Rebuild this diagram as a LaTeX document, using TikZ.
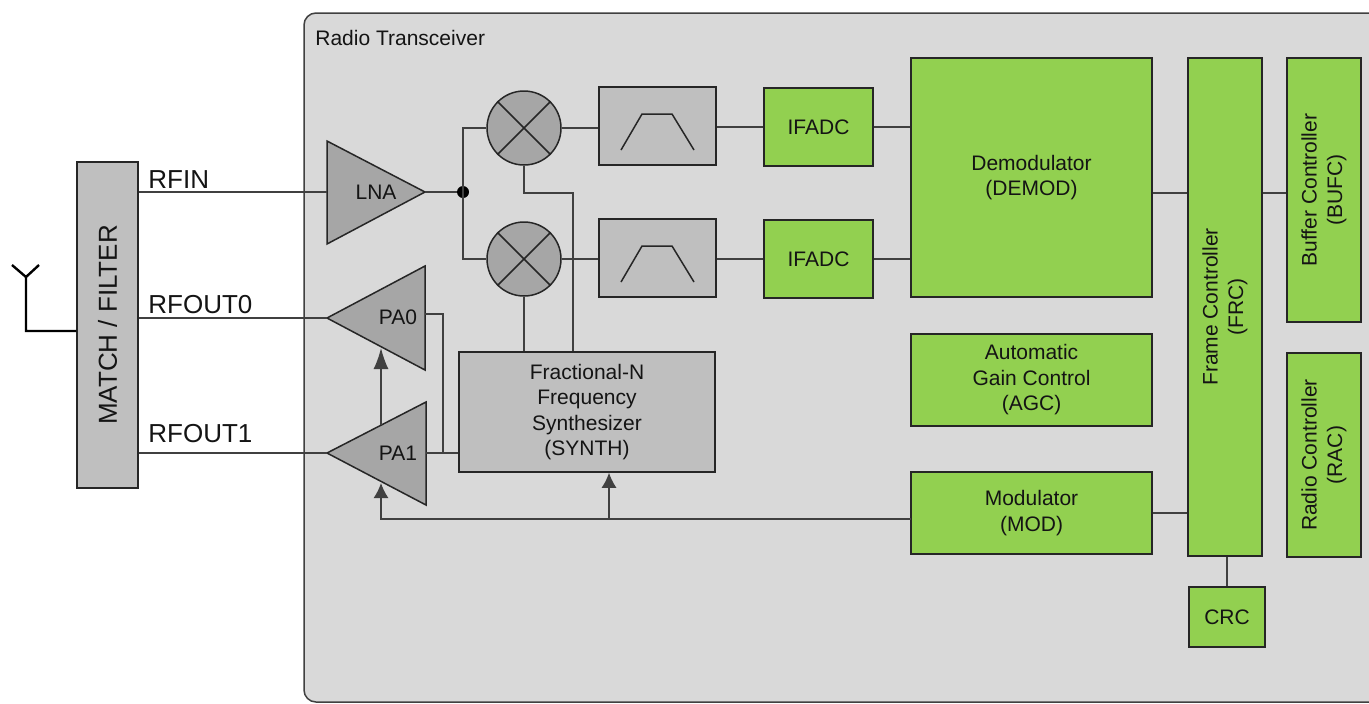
\documentclass[tikz,border=0pt]{standalone}
\usepackage{fontspec}
\setmainfont{Liberation Sans}
\usetikzlibrary{arrows.meta,fit,calc}
\definecolor{bgray}{HTML}{D9D9D9}
\definecolor{lgray}{HTML}{BFBFBF}
\definecolor{mgray}{HTML}{A6A6A6}
\definecolor{lgreen}{HTML}{92D050}
\definecolor{edgec}{HTML}{262626}
\definecolor{wirec}{HTML}{404040}
\definecolor{txt}{HTML}{141414}
\tikzset{
  blk/.style={draw=edgec, line width=0.75pt, inner sep=0pt},
  gbox/.style={blk, fill=lgreen},
  sbox/.style={blk, fill=lgray},
  amp/.style={draw=edgec, line width=0.75pt, fill=mgray, line join=miter},
  mixer/.style={circle, draw=edgec, fill=mgray, line width=0.75pt, minimum size=37pt, inner sep=0pt},
  wire/.style={draw=wirec, line width=0.75pt},
  arr/.style={wire, -{Latex[length=7.5pt,width=7.5pt]}},
  longarr/.style={wire, -{Latex[length=10.5pt,width=7.5pt]}},
  pinlbl/.style={inner sep=0pt, anchor=base west, text=txt, font=\fontsize{13}{15}\selectfont},
  txtlbl/.style={inner sep=0pt, align=center, text=txt, font=\fontsize{10.5}{12.75}\selectfont},
  rlab/.style={txtlbl, rotate=90},
}
\begin{document}
\begin{tikzpicture}[x=0.5pt,y=-0.5pt]
\useasboundingbox (0,0) rectangle (1369,703);
\clip (0,0) rectangle (1369,703);
\fill[white] (0,0) rectangle (1369,703);
% transceiver frame
\draw[draw=wirec, fill=bgray, line width=0.75pt, rounded corners=6pt] (304,13) rectangle (1420,702);
\node[txtlbl, anchor=base west] (title) at (315,45) {Radio Transceiver};

% match / filter and antenna
\node[sbox, fit={(77,162) (138,488)}] (mf) {};
\node[rlab, font=\fontsize{13}{15}\selectfont] (mflab) at (mf.center) {MATCH / FILTER};
\coordinate (antb) at (26,331);
\coordinate (antt) at (26,277);
\coordinate (antl) at (12,265);
\coordinate (antr) at (39,265);
\draw[line width=1.2pt, black] (mf.west |- antb) -- (antb) -- (antt) -- (antl) (antt) -- (antr);

% amplifiers
\coordinate (lnain) at (327,192);
\coordinate (lnaout) at (425,192);
\draw[amp] (327,141) -- (425,192) -- (327,244) -- cycle;
\node[txtlbl] (lnalab) at (376,192) {LNA};

\coordinate (pa0out) at (327,318);
\coordinate (pa0in) at (425,314);
\draw[amp] (327,318) -- (425,266) -- (425,370) -- cycle;
\node[txtlbl] (pa0lab) at (398,317) {PA0};

\coordinate (pa1out) at (327,453);
\coordinate (pa1in) at (426,453);
\draw[amp] (327,453) -- (426,402) -- (426,505) -- cycle;
\node[txtlbl] (pa1lab) at (398,453) {PA1};

% pin wires and labels
\draw[wire] (lnain -| mf.east) -- (lnain);
\draw[wire] (pa0out -| mf.east) -- (pa0out);
\draw[wire] (pa1out -| mf.east) -- (pa1out);
\node[pinlbl] (rfin) at (148,188) {RFIN};
\node[pinlbl] (rfout0) at (148,313) {RFOUT0};
\node[pinlbl] (rfout1) at (148,442) {RFOUT1};

% mixers
\node[mixer] (mixA) at (524,128) {};
\node[mixer] (mixB) at (524,259) {};
\draw[edgec, line width=0.75pt] (mixA.north west) -- (mixA.south east) (mixA.north east) -- (mixA.south west);
\draw[edgec, line width=0.75pt] (mixB.north west) -- (mixB.south east) (mixB.north east) -- (mixB.south west);

% filters
\node[sbox, fit={(599,87) (716,165)}] (filtA) {};
\node[sbox, fit={(599,219) (716,297)}] (filtB) {};
\draw[edgec, line width=0.75pt] (621,150) -- (642,114) -- (672,114) -- (694,150);
\draw[edgec, line width=0.75pt] (621,282) -- (642,246) -- (672,246) -- (694,282);

% green blocks
\node[gbox, fit={(764,88) (873,166)}] (ifA) {};
\node[txtlbl] (ifAlab) at (ifA.center) {IFADC};
\node[gbox, fit={(764,220) (873,298)}] (ifB) {};
\node[txtlbl] (ifBlab) at (ifB.center) {IFADC};
\node[gbox, fit={(911,58) (1152,297)}] (demod) {};
\node[txtlbl] (demodlab) at (demod.center) {Demodulator\\(DEMOD)};
\node[gbox, fit={(911,334) (1152,426)}] (agc) {};
\node[txtlbl] (agclab) at (agc.center) {Automatic\\Gain Control\\(AGC)};
\node[gbox, fit={(911,472) (1152,554)}] (mod) {};
\node[txtlbl] (modlab) at (mod.center) {Modulator\\(MOD)};
\node[gbox, fit={(1188,58) (1262,556)}] (frc) {};
\node[rlab] (frclab) at (frc.center) {Frame Controller\\(FRC)};
\node[gbox, fit={(1287,58) (1361,322)}] (bufc) {};
\node[rlab] (bufclab) at (bufc.center) {Buffer Controller\\(BUFC)};
\node[gbox, fit={(1287,353) (1361,557)}] (rac) {};
\node[rlab] (raclab) at (rac.center) {Radio Controller\\(RAC)};
\node[gbox, fit={(1189,587) (1265,647)}] (crc) {};
\node[txtlbl] (crclab) at (crc.center) {CRC};

% synthesizer
\node[sbox, fit={(459,352) (715,472)}] (synth) {};
\node[txtlbl] (synthlab) at (synth.center) {Fractional-N\\Frequency\\Synthesizer\\(SYNTH)};

% receive path wires
\coordinate (split) at (463,192);
\draw[wire] (lnaout) -- (split);
\fill[black] (split) circle (3pt);
\draw[wire] (mixA.west) -| (split) |- (mixB.west);
\draw[wire] (mixA.east) -- (mixA.east -| filtA.west);
\draw[wire] (mixB.east) -- (mixB.east -| filtB.west);
\draw[wire] (ifA.west -| filtA.east) -- (ifA.west);
\draw[wire] (ifB.west -| filtB.east) -- (ifB.west);
\draw[wire] (ifA.east) -- (ifA.east -| demod.west);
\draw[wire] (ifB.east) -- (ifB.east -| demod.west);

% controller wires
\coordinate (dline) at (1152,193);
\draw[wire] (dline -| demod.east) -- (dline -| frc.west);
\draw[wire] (dline -| frc.east) -- (dline -| bufc.west);
\draw[wire] (mod.east) -- (mod.east -| frc.west);
\draw[wire] (crc.north |- frc.south) -- (crc.north);

% LO wires
\coordinate (lo) at (573,193);
\draw[wire] (mixB.south) -- (mixB.south |- synth.north);
\draw[wire] (lo |- synth.north) -- (lo) -| (mixA.south);
\coordinate (pajoin) at (443,453);
\draw[wire] (pa0in) -| (pajoin);
\draw[wire] (pa1in) -- (pa1in -| synth.west);

% transmit control arrows
\coordinate (modin) at (911,519);
\coordinate (pa1tap) at (381,483);
\coordinate (synthtap) at (609,519);
\coordinate (pa1top) at (381,425);
\coordinate (pa0bot) at (381,348);
\draw[arr] (modin) -| (pa1tap);
\draw[arr] (synthtap) -- (synthtap |- synth.south);
\draw[longarr] (pa1top) -- (pa0bot);
\end{tikzpicture}
\end{document}
